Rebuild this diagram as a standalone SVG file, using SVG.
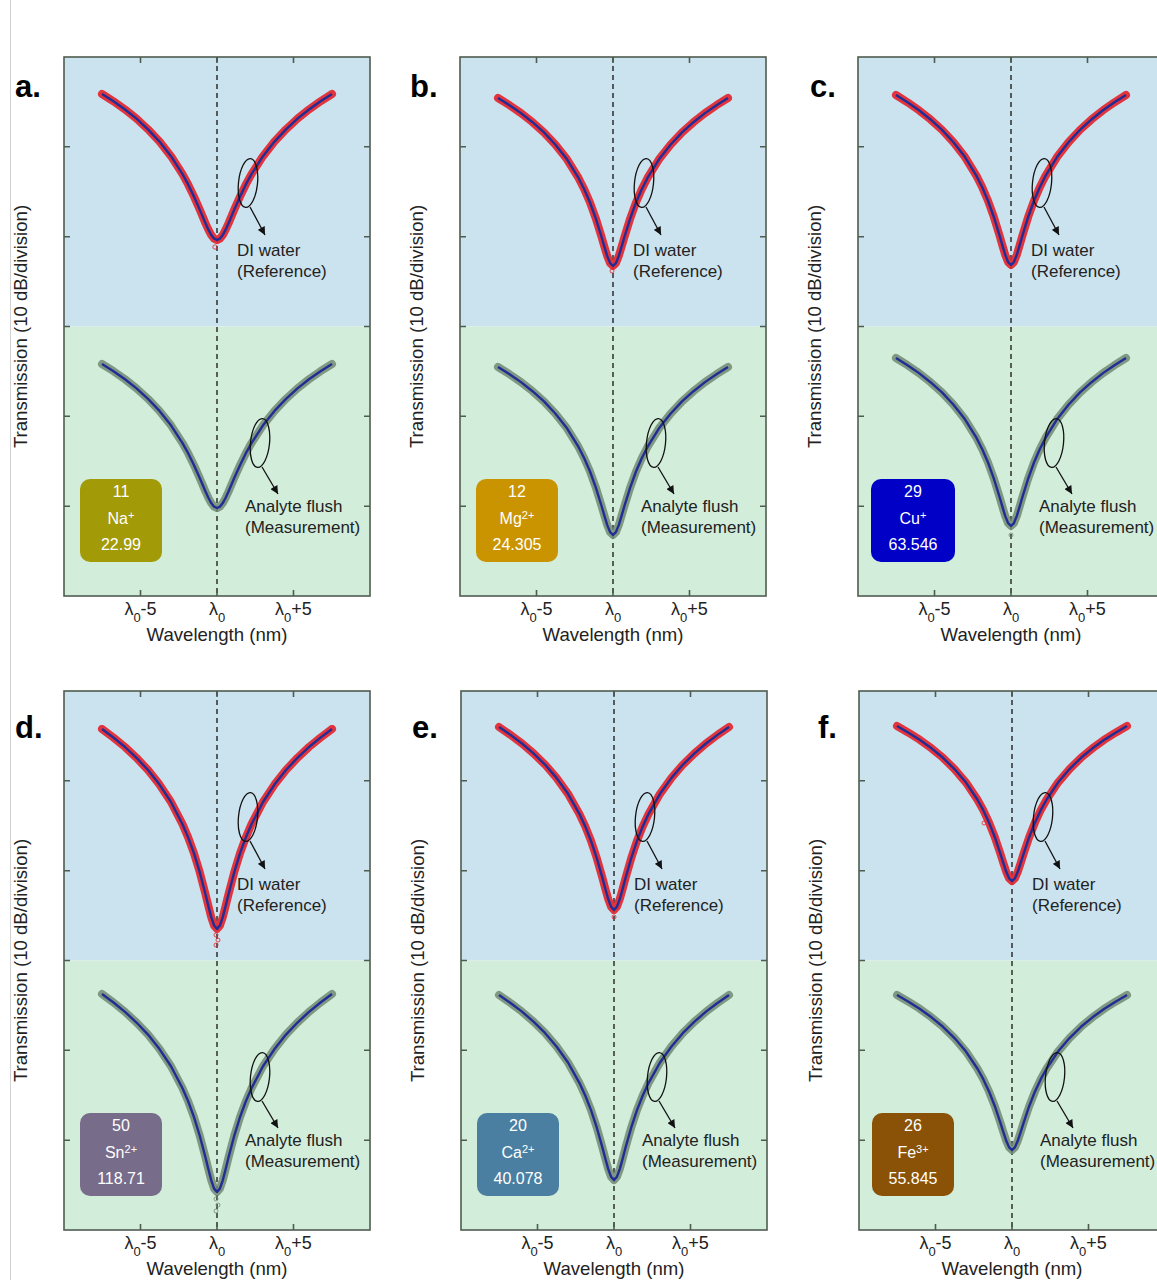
<svg xmlns="http://www.w3.org/2000/svg" xmlns:xlink="http://www.w3.org/1999/xlink" width="1157" height="1280" viewBox="0 0 1157 1280">
<style>
text{font-family:"Liberation Sans",Arial,Helvetica,sans-serif;fill:#222}
.bgb{fill:#cbe2ef}
.bgg{fill:#d2edda}
.frame{fill:none;stroke:#4f5c4f;stroke-width:1.6}
.dash{fill:none;stroke:#222;stroke-width:1.4;stroke-dasharray:5 4}
.ref{stroke:#e3262e;stroke-width:8;stroke-linejoin:round;stroke-linecap:round;fill:none;opacity:.92}
.meas{stroke:#728a72;stroke-width:8;stroke-linejoin:round;stroke-linecap:round;fill:none;opacity:.85}
.fit{stroke:#1f2d96;stroke-width:2.4;stroke-linejoin:round;fill:none}
.ell{fill:none;stroke:#111;stroke-width:1.3}
.arr{fill:none;stroke:#111;stroke-width:1.3;marker-end:url(#ah)}
.ann{font-size:17px}
.ax{font-size:18.6px}
.tk{font-size:18px;text-anchor:middle}
.sub{font-size:13px}
.lbl{font-size:31px;font-weight:bold;fill:#000}
.el{font-size:16px;fill:#fff;text-anchor:middle}
.sup{font-size:11px}
.dotr{fill:none;stroke:#e3262e;stroke-width:1;opacity:.8}
.dotg{fill:none;stroke:#6f876f;stroke-width:1;opacity:.8}
</style>
<defs>
<marker id="ah" viewBox="0 0 10 10" refX="10" refY="5" markerWidth="9" markerHeight="8" markerUnits="userSpaceOnUse" orient="auto"><path d="M0,0 L10,5 L0,10 z" fill="#111"/></marker>
<path id="v10" vector-effect="non-scaling-stroke" fill="none" d="M-1000,-1000 L-900,-957 L-800,-910 L-700,-856 L-600,-795 L-500,-722 L-400,-635 L-300,-524 L-250,-457 L-200,-378 L-150,-284 L-100,-174 L-75,-115 L-50,-59 L-25,-17 L0,0 L25,-17 L50,-59 L75,-115 L100,-174 L150,-284 L200,-378 L250,-457 L300,-524 L400,-635 L500,-722 L600,-795 L700,-856 L800,-910 L900,-957 L1000,-1000"/>
<path id="v15" vector-effect="non-scaling-stroke" fill="none" d="M-1000,-1000 L-900,-950 L-800,-894 L-700,-831 L-600,-758 L-500,-674 L-400,-574 L-300,-451 L-250,-379 L-200,-297 L-150,-208 L-100,-114 L-75,-71 L-50,-34 L-25,-9 L0,0 L25,-9 L50,-34 L75,-71 L100,-114 L150,-208 L200,-297 L250,-379 L300,-451 L400,-574 L500,-674 L600,-758 L700,-831 L800,-894 L900,-950 L1000,-1000"/>
<g id="bg">
<rect class="bgb" x="0" y="0" width="306" height="269.5"/>
<rect class="bgg" x="0" y="269.5" width="306" height="269.5"/>
<line class="dash" x1="153" y1="0" x2="153" y2="539"/>
</g>
<g id="axes">
<rect class="frame" x="0" y="0" width="306" height="539"/>
<path class="frame" d="M76.5,0v6M153,0v6M229.5,0v6M76.5,539v-6M153,539v-6M229.5,539v-6M0,89.8h6M0,179.7h6M0,269.5h6M0,359.3h6M0,449.2h6M306,89.8h-6M306,179.7h-6M306,269.5h-6M306,359.3h-6M306,449.2h-6"/>
</g>
<g id="anno">
<ellipse class="ell" cx="0" cy="0" rx="9.5" ry="24.5" transform="translate(184,126) rotate(6)"/>
<ellipse class="ell" cx="0" cy="0" rx="9.5" ry="24.5" transform="translate(196,386) rotate(6)"/>
<text class="ann" x="173" y="199">DI water</text>
<text class="ann" x="173" y="220">(Reference)</text>
<text class="ann" x="181" y="455">Analyte flush</text>
<text class="ann" x="181" y="476">(Measurement)</text>
<text class="tk" x="76.5" y="558">λ<tspan class="sub" dy="7">0</tspan><tspan dy="-7">-5</tspan></text>
<text class="tk" x="153" y="558">λ<tspan class="sub" dy="7">0</tspan></text>
<text class="tk" x="229.5" y="558">λ<tspan class="sub" dy="7">0</tspan><tspan dy="-7">+5</tspan></text>
<text class="ax" x="153" y="584" text-anchor="middle">Wavelength (nm)</text>
<text class="ax" text-anchor="middle" transform="translate(-37,269.5) rotate(-90)">Transmission (10 dB/division)</text>
</g>
</defs>

<rect x="0" y="0" width="1157" height="1280" fill="#fff"/>
<line x1="10.5" y1="0" x2="10.5" y2="1280" stroke="#d2d2d2" stroke-width="1"/>

<g id="panel-a" transform="translate(64,57)">
<use href="#bg"/>
<use href="#v15" class="ref" transform="translate(153,183) scale(0.115,0.146)"/>
<use href="#v15" class="fit" transform="translate(153,183) scale(0.115,0.146)"/>
<circle class="dotr" cx="151" cy="190" r="2.2"/>
<use href="#v15" class="meas" transform="translate(153,451) scale(0.115,0.144)"/>
<use href="#v15" class="fit" transform="translate(153,451) scale(0.115,0.144)"/>
<use href="#axes"/>
<use href="#anno"/>
<rect x="16" y="422" width="82" height="83" rx="10" fill="#a39a08"/>
<text class="el" x="57" y="440">11</text>
<text class="el" x="57" y="467">Na<tspan class="sup" dy="-5">+</tspan></text>
<text class="el" x="57" y="493">22.99</text>
<text class="lbl" x="-49" y="40">a.</text>
</g>

<g id="panel-b" transform="translate(460,57)">
<use href="#bg"/>
<use href="#v10" class="ref" transform="translate(153,209) scale(0.115,0.168)"/>
<use href="#v10" class="fit" transform="translate(153,209) scale(0.115,0.168)"/>
<circle class="dotr" cx="152" cy="214" r="2"/>
<use href="#v10" class="meas" transform="translate(153,478) scale(0.115,0.168)"/>
<use href="#v10" class="fit" transform="translate(153,478) scale(0.115,0.168)"/>
<use href="#axes"/>
<use href="#anno"/>
<rect x="16" y="422" width="82" height="83" rx="10" fill="#c99400"/>
<text class="el" x="57" y="440">12</text>
<text class="el" x="57" y="467">Mg<tspan class="sup" dy="-5">2+</tspan></text>
<text class="el" x="57" y="493">24.305</text>
<text class="lbl" x="-50" y="40">b.</text>
</g>

<g id="panel-c" transform="translate(858,57)">
<use href="#bg"/>
<use href="#v10" class="ref" transform="translate(153,208) scale(0.115,0.170)"/>
<use href="#v10" class="fit" transform="translate(153,208) scale(0.115,0.170)"/>
<use href="#v10" class="meas" transform="translate(153,469) scale(0.115,0.168)"/>
<use href="#v10" class="fit" transform="translate(153,469) scale(0.115,0.168)"/>
<circle class="dotg" cx="153" cy="478" r="2"/>
<use href="#axes"/>
<use href="#anno"/>
<rect x="13" y="422" width="84" height="83" rx="10" fill="#0000c6"/>
<text class="el" x="55" y="440">29</text>
<text class="el" x="55" y="467">Cu<tspan class="sup" dy="-5">+</tspan></text>
<text class="el" x="55" y="493">63.546</text>
<text class="lbl" x="-48" y="40">c.</text>
</g>

<g id="panel-d" transform="translate(64,691)">
<use href="#bg"/>
<use href="#v10" class="ref" transform="translate(153,238) scale(0.115,0.200)"/>
<circle class="dotr" cx="152" cy="244" r="2"/>
<circle class="dotr" cx="154" cy="249" r="2"/>
<circle class="dotr" cx="152" cy="254" r="2"/>
<use href="#v10" class="fit" transform="translate(153,238) scale(0.115,0.200)"/>
<use href="#v10" class="meas" transform="translate(153,501) scale(0.115,0.198)"/>
<circle class="dotg" cx="152" cy="508" r="2"/>
<circle class="dotg" cx="154" cy="514" r="2"/>
<circle class="dotg" cx="152" cy="520" r="2"/>
<use href="#v10" class="fit" transform="translate(153,501) scale(0.115,0.198)"/>
<use href="#axes"/>
<use href="#anno"/>
<rect x="16" y="422" width="82" height="83" rx="10" fill="#786c8b"/>
<text class="el" x="57" y="440">50</text>
<text class="el" x="57" y="467">Sn<tspan class="sup" dy="-5">2+</tspan></text>
<text class="el" x="57" y="493">118.71</text>
<text class="lbl" x="-49" y="47">d.</text>
</g>

<g id="panel-e" transform="translate(461,691)">
<use href="#bg"/>
<use href="#v10" class="ref" transform="translate(153,219) scale(0.115,0.183)"/>
<circle class="dotr" cx="153" cy="226" r="2"/>
<use href="#v10" class="fit" transform="translate(153,219) scale(0.115,0.183)"/>
<use href="#v10" class="meas" transform="translate(153,489) scale(0.115,0.185)"/>
<use href="#v10" class="fit" transform="translate(153,489) scale(0.115,0.185)"/>
<use href="#axes"/>
<use href="#anno"/>
<rect x="16" y="422" width="82" height="83" rx="10" fill="#4a7fa1"/>
<text class="el" x="57" y="440">20</text>
<text class="el" x="57" y="467">Ca<tspan class="sup" dy="-5">2+</tspan></text>
<text class="el" x="57" y="493">40.078</text>
<text class="lbl" x="-49" y="47">e.</text>
</g>

<g id="panel-f" transform="translate(859,691)">
<use href="#bg"/>
<use href="#v10" class="ref" transform="translate(153,190) scale(0.115,0.155)"/>
<circle class="dotr" cx="125" cy="132" r="2"/>
<use href="#v10" class="fit" transform="translate(153,190) scale(0.115,0.155)"/>
<use href="#v10" class="meas" transform="translate(153,459) scale(0.115,0.155)"/>
<use href="#v10" class="fit" transform="translate(153,459) scale(0.115,0.155)"/>
<use href="#axes"/>
<use href="#anno"/>
<rect x="13" y="422" width="82" height="83" rx="10" fill="#8a5206"/>
<text class="el" x="54" y="440">26</text>
<text class="el" x="54" y="467">Fe<tspan class="sup" dy="-5">3+</tspan></text>
<text class="el" x="54" y="493">55.845</text>
<text class="lbl" x="-41" y="47">f.</text>
</g>

<g id="connectors">
<line class="arr" x1="250" y1="207" x2="265" y2="235"/>
<line class="arr" x1="262" y1="467" x2="278" y2="494"/>
<line class="arr" x1="646" y1="207" x2="661" y2="235"/>
<line class="arr" x1="658" y1="467" x2="674" y2="494"/>
<line class="arr" x1="1044" y1="207" x2="1059" y2="235"/>
<line class="arr" x1="1056" y1="467" x2="1072" y2="494"/>
<line class="arr" x1="250" y1="841" x2="265" y2="869"/>
<line class="arr" x1="262" y1="1101" x2="278" y2="1128"/>
<line class="arr" x1="647" y1="841" x2="662" y2="869"/>
<line class="arr" x1="659" y1="1101" x2="675" y2="1128"/>
<line class="arr" x1="1045" y1="841" x2="1060" y2="869"/>
<line class="arr" x1="1057" y1="1101" x2="1073" y2="1128"/>
</g>
</svg>
